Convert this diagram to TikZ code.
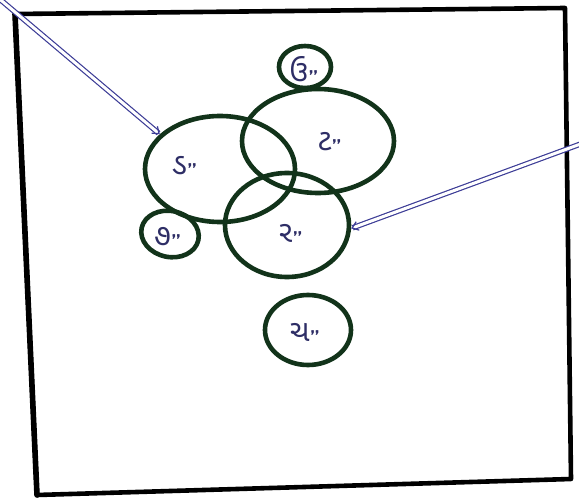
\documentclass[tikz,border=0pt]{standalone}
\usepackage{fontspec}
\usetikzlibrary{shapes.geometric,arrows.meta}
\newfontfamily\gujfont[Script=Gujarati]{Noto Sans Gujarati UI}
\definecolor{ringgreen}{HTML}{12331A}
\definecolor{inkblue}{HTML}{2E2E66}
\definecolor{penblue}{HTML}{3C3C96}
\tikzset{
  ring/.style={ellipse, draw=ringgreen, line width=4.6pt, inner sep=0pt},
  tag/.style={font=\gujfont\fontsize{30}{30}\selectfont, text=inkblue, inner sep=1pt},
  pointer/.style={draw=penblue, line width=1.2pt, double=white, double distance=3pt,
    -{Straight Barb[length=6pt,width=9pt]}},
  frame/.style={line width=4.6pt, line join=round, line cap=round},
}
\newcommand{\ditto}{\raisebox{-3pt}{\sffamily\bfseries\fontsize{20}{20}\selectfont"}}

\begin{document}
\begin{tikzpicture}[x=1pt,y=-1pt]
\useasboundingbox (0,0) rectangle (579,500);
% hand drawn frame
\coordinate (cornerTL) at (15,14);
\coordinate (cornerTR) at (565,8);
\coordinate (cornerBR) at (571,479);
\coordinate (cornerBL) at (37,495);
\draw[frame] (cornerTL) -- (cornerTR) -- (cornerBR) -- (cornerBL) -- cycle;
\draw[frame, line width=5.6pt] (cornerBL) -- (cornerTL);

% the rings
\node[ring, minimum width=52pt, minimum height=42pt] (ringU) at (305,67) {};
\node[ring, minimum width=152pt, minimum height=104pt] (ringT) at (318,141) {};
\node[ring, minimum width=150pt, minimum height=106pt] (ringD) at (220,169) {};
\node[ring, minimum width=124pt, minimum height=104pt] (ringR) at (287,225) {};
\node[ring, minimum width=58pt, minimum height=46pt, rotate=-12] (ringS) at (170,234) {};
\node[ring, minimum width=86pt, minimum height=70pt] (ringC) at (308,330) {};

% labels
\node[tag] (tagU) at (304,70) {ઉ\ditto};
\node[tag] (tagT) at (330,143) {ટ\ditto};
\node[tag] (tagD) at (185,167) {ડ\ditto};
\node[tag] (tagS) at (168,238) {૭\ditto};
\node[tag] (tagR) at (291,235) {ર\ditto};
\node[tag] (tagC) at (305,334) {ચ\ditto};

% pointers
\coordinate (startL) at (-4,-4);
\coordinate (startR) at (586,142);
\draw[pointer] (startL) -- (ringD.150);
\draw[pointer] (startR) -- (ringR.-3);
\end{tikzpicture}
\end{document}
